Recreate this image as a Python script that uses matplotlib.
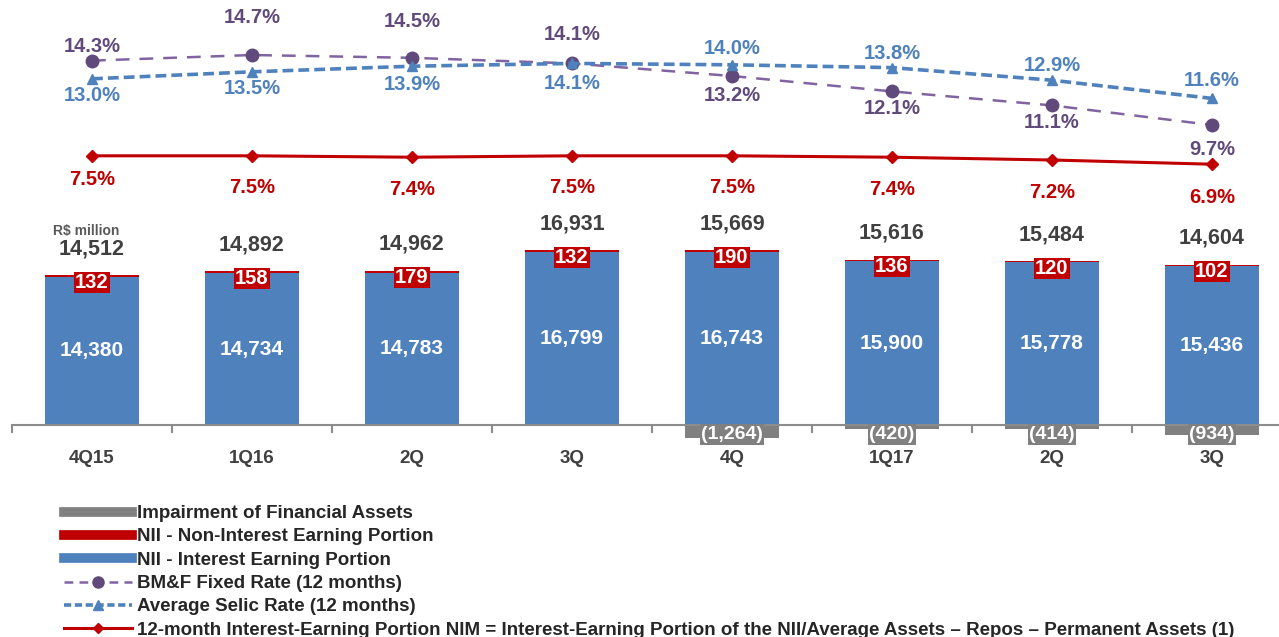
import numpy as np
import matplotlib
matplotlib.use("Agg")
import matplotlib.pyplot as plt
from matplotlib.lines import Line2D

# data (R$ million / %)
quarters = ['4Q15', '1Q16', '2Q', '3Q', '4Q', '1Q17', '2Q', '3Q']
nii_interest = [14380, 14734, 14783, 16799, 16743, 15900, 15778, 15436]
nii_non_interest = [132, 158, 179, 132, 190, 136, 120, 102]
impairment = [0, 0, 0, 0, -1264, -420, -414, -934]
totals = [14512, 14892, 14962, 16931, 15669, 15616, 15484, 14604]
bmf_rate = [14.3, 14.7, 14.5, 14.1, 13.2, 12.1, 11.1, 9.7]
selic_rate = [13.0, 13.5, 13.9, 14.1, 14.0, 13.8, 12.9, 11.6]
nim = [7.5, 7.5, 7.4, 7.5, 7.5, 7.4, 7.2, 6.9]

plt.rcParams['font.family'] = ['Liberation Sans', 'DejaVu Sans']
plt.rcParams['font.weight'] = 'bold'

BLUE = '#4F81BD'
RED = '#C00000'
GREY = '#808080'
PURPLE_LINE = '#8064A2'
PURPLE = '#604A7B'
DARK = '#404040'

W, H = 1279, 637
fig = plt.figure(figsize=(W / 100, H / 100), dpi=100)
ax = fig.add_axes([12 / W, (H - 460) / H, 1280 / W, 460 / H])

x = np.arange(len(quarters))
bw = 0.59
ax.bar(x, nii_interest, bw, color=BLUE, zorder=2)
ax.bar(x, nii_non_interest, bw, bottom=nii_interest, color=RED, zorder=2)
ax.bar(x, impairment, bw, color=GREY, zorder=2)

ax.set_xlim(-0.5, 7.5)
ax.set_ylim(-3395, 41222)
for s in ['top', 'right', 'left']:
    ax.spines[s].set_visible(False)
ax.spines['bottom'].set_position(('data', 0))
ax.spines['bottom'].set_color('#8C8C8C')
ax.spines['bottom'].set_linewidth(1.5)
ax.set_yticks([])
ax.set_xticks(x, quarters)
ax.set_xticks(np.arange(-0.5, 8, 1), minor=True)
ax.tick_params(axis='x', which='major', length=0, pad=18, labelsize=13.5, labelcolor=DARK)
ax.tick_params(axis='x', which='minor', length=6, width=1.5, color='#8C8C8C', direction='out')

for i in range(len(quarters)):
    top = nii_interest[i] + nii_non_interest[i]
    ax.text(x[i], nii_interest[i] / 2, f'{nii_interest[i]:,}', ha='center', va='center',
            color='white', fontsize=15, zorder=4)
    ax.annotate(f'{nii_non_interest[i]:,}', (x[i], top), xytext=(0, -7), textcoords='offset pixels',
                ha='center', va='center', color='white', fontsize=14.5, zorder=4,
                bbox=dict(boxstyle='square,pad=0.05', fc=RED, ec='none'))
    ax.annotate(f'{totals[i]:,}', (x[i], top), xytext=(0, 16), textcoords='offset pixels',
                ha='center', va='bottom', color=DARK, fontsize=15.5, zorder=4)
    if impairment[i] < 0:
        ax.annotate(f'({-impairment[i]:,})', (x[i], 0), xytext=(0, -1), textcoords='offset pixels',
                    ha='center', va='top', color='white', fontsize=14, zorder=4,
                    bbox=dict(boxstyle='square,pad=0.08', fc=GREY, ec='none'))

ax.annotate('R$ million', (x[0], nii_interest[0] + nii_non_interest[0]), xytext=(-6, 37),
            textcoords='offset pixels', ha='center', va='bottom', color='#595959', fontsize=10)

# rate lines on their own scale
ax2 = ax.twinx()
ax2.set_ylim(-14.23, 18.63)
ax2.set_yticks([])
for s in ax2.spines.values():
    s.set_visible(False)

ax2.plot(x, bmf_rate, color=PURPLE_LINE, lw=1.8, dashes=(5.5, 4), marker='o', ms=9,
         mfc=PURPLE, mec=PURPLE, zorder=3)
ax2.plot(x, selic_rate, color=BLUE, lw=2.6, dashes=(3, 1.4), marker='^', ms=7.5,
         mfc=BLUE, mec=BLUE, zorder=3)
ax2.plot(x, nim, color=RED, lw=2.2, marker='D', ms=6, mfc=RED, mec=RED, zorder=3)

bmf_off = [14, 38, 36, 29, -19, -17, -17, -24]
selic_off = [-17, -17, -18, -20, 16, 14, 15, 18]
nim_off = [-24, -32, -32, -32, -32, -32, -32, -33]
for i in range(len(quarters)):
    ax2.annotate(f'{bmf_rate[i]:.1f}%', (x[i], bmf_rate[i]), xytext=(0, bmf_off[i]),
                 textcoords='offset pixels', ha='center', va='center', color=PURPLE, fontsize=14.5)
    ax2.annotate(f'{selic_rate[i]:.1f}%', (x[i], selic_rate[i]), xytext=(0, selic_off[i]),
                 textcoords='offset pixels', ha='center', va='center', color=BLUE, fontsize=14.5)
    ax2.annotate(f'{nim[i]:.1f}%', (x[i], nim[i]), xytext=(0, nim_off[i]),
                 textcoords='offset pixels', ha='center', va='center', color=RED, fontsize=14.5)

handles = [
    Line2D([], [], color=GREY, lw=7),
    Line2D([], [], color=RED, lw=7),
    Line2D([], [], color=BLUE, lw=7),
    Line2D([], [], color=PURPLE_LINE, lw=1.8, dashes=(3.5, 2.5), marker='o', ms=8, mfc=PURPLE, mec=PURPLE),
    Line2D([], [], color=BLUE, lw=2.6, dashes=(2, 1), marker='^', ms=7, mfc=BLUE, mec=BLUE),
    Line2D([], [], color=RED, lw=2.2, marker='D', ms=5, mfc=RED, mec=RED),
]
labels = [
    'Impairment of Financial Assets',
    'NII - Non-Interest Earning Portion',
    'NII - Interest Earning Portion',
    'BM&F Fixed Rate (12 months)',
    'Average Selic Rate (12 months)',
    '12-month Interest-Earning Portion NIM = Interest-Earning Portion of the NII/Average Assets \u2013 Repos \u2013 Permanent Assets (1)',
]
fig.legend(handles, labels, loc='upper left', bbox_to_anchor=(64 / W, 1 - 505 / H),
           bbox_transform=fig.transFigure, frameon=False, fontsize=13.5, labelspacing=0.33,
           handlelength=3.6, handletextpad=0.3, borderpad=0, borderaxespad=0, numpoints=1,
           labelcolor='#262626')

fig.savefig('out.png', dpi=100)
